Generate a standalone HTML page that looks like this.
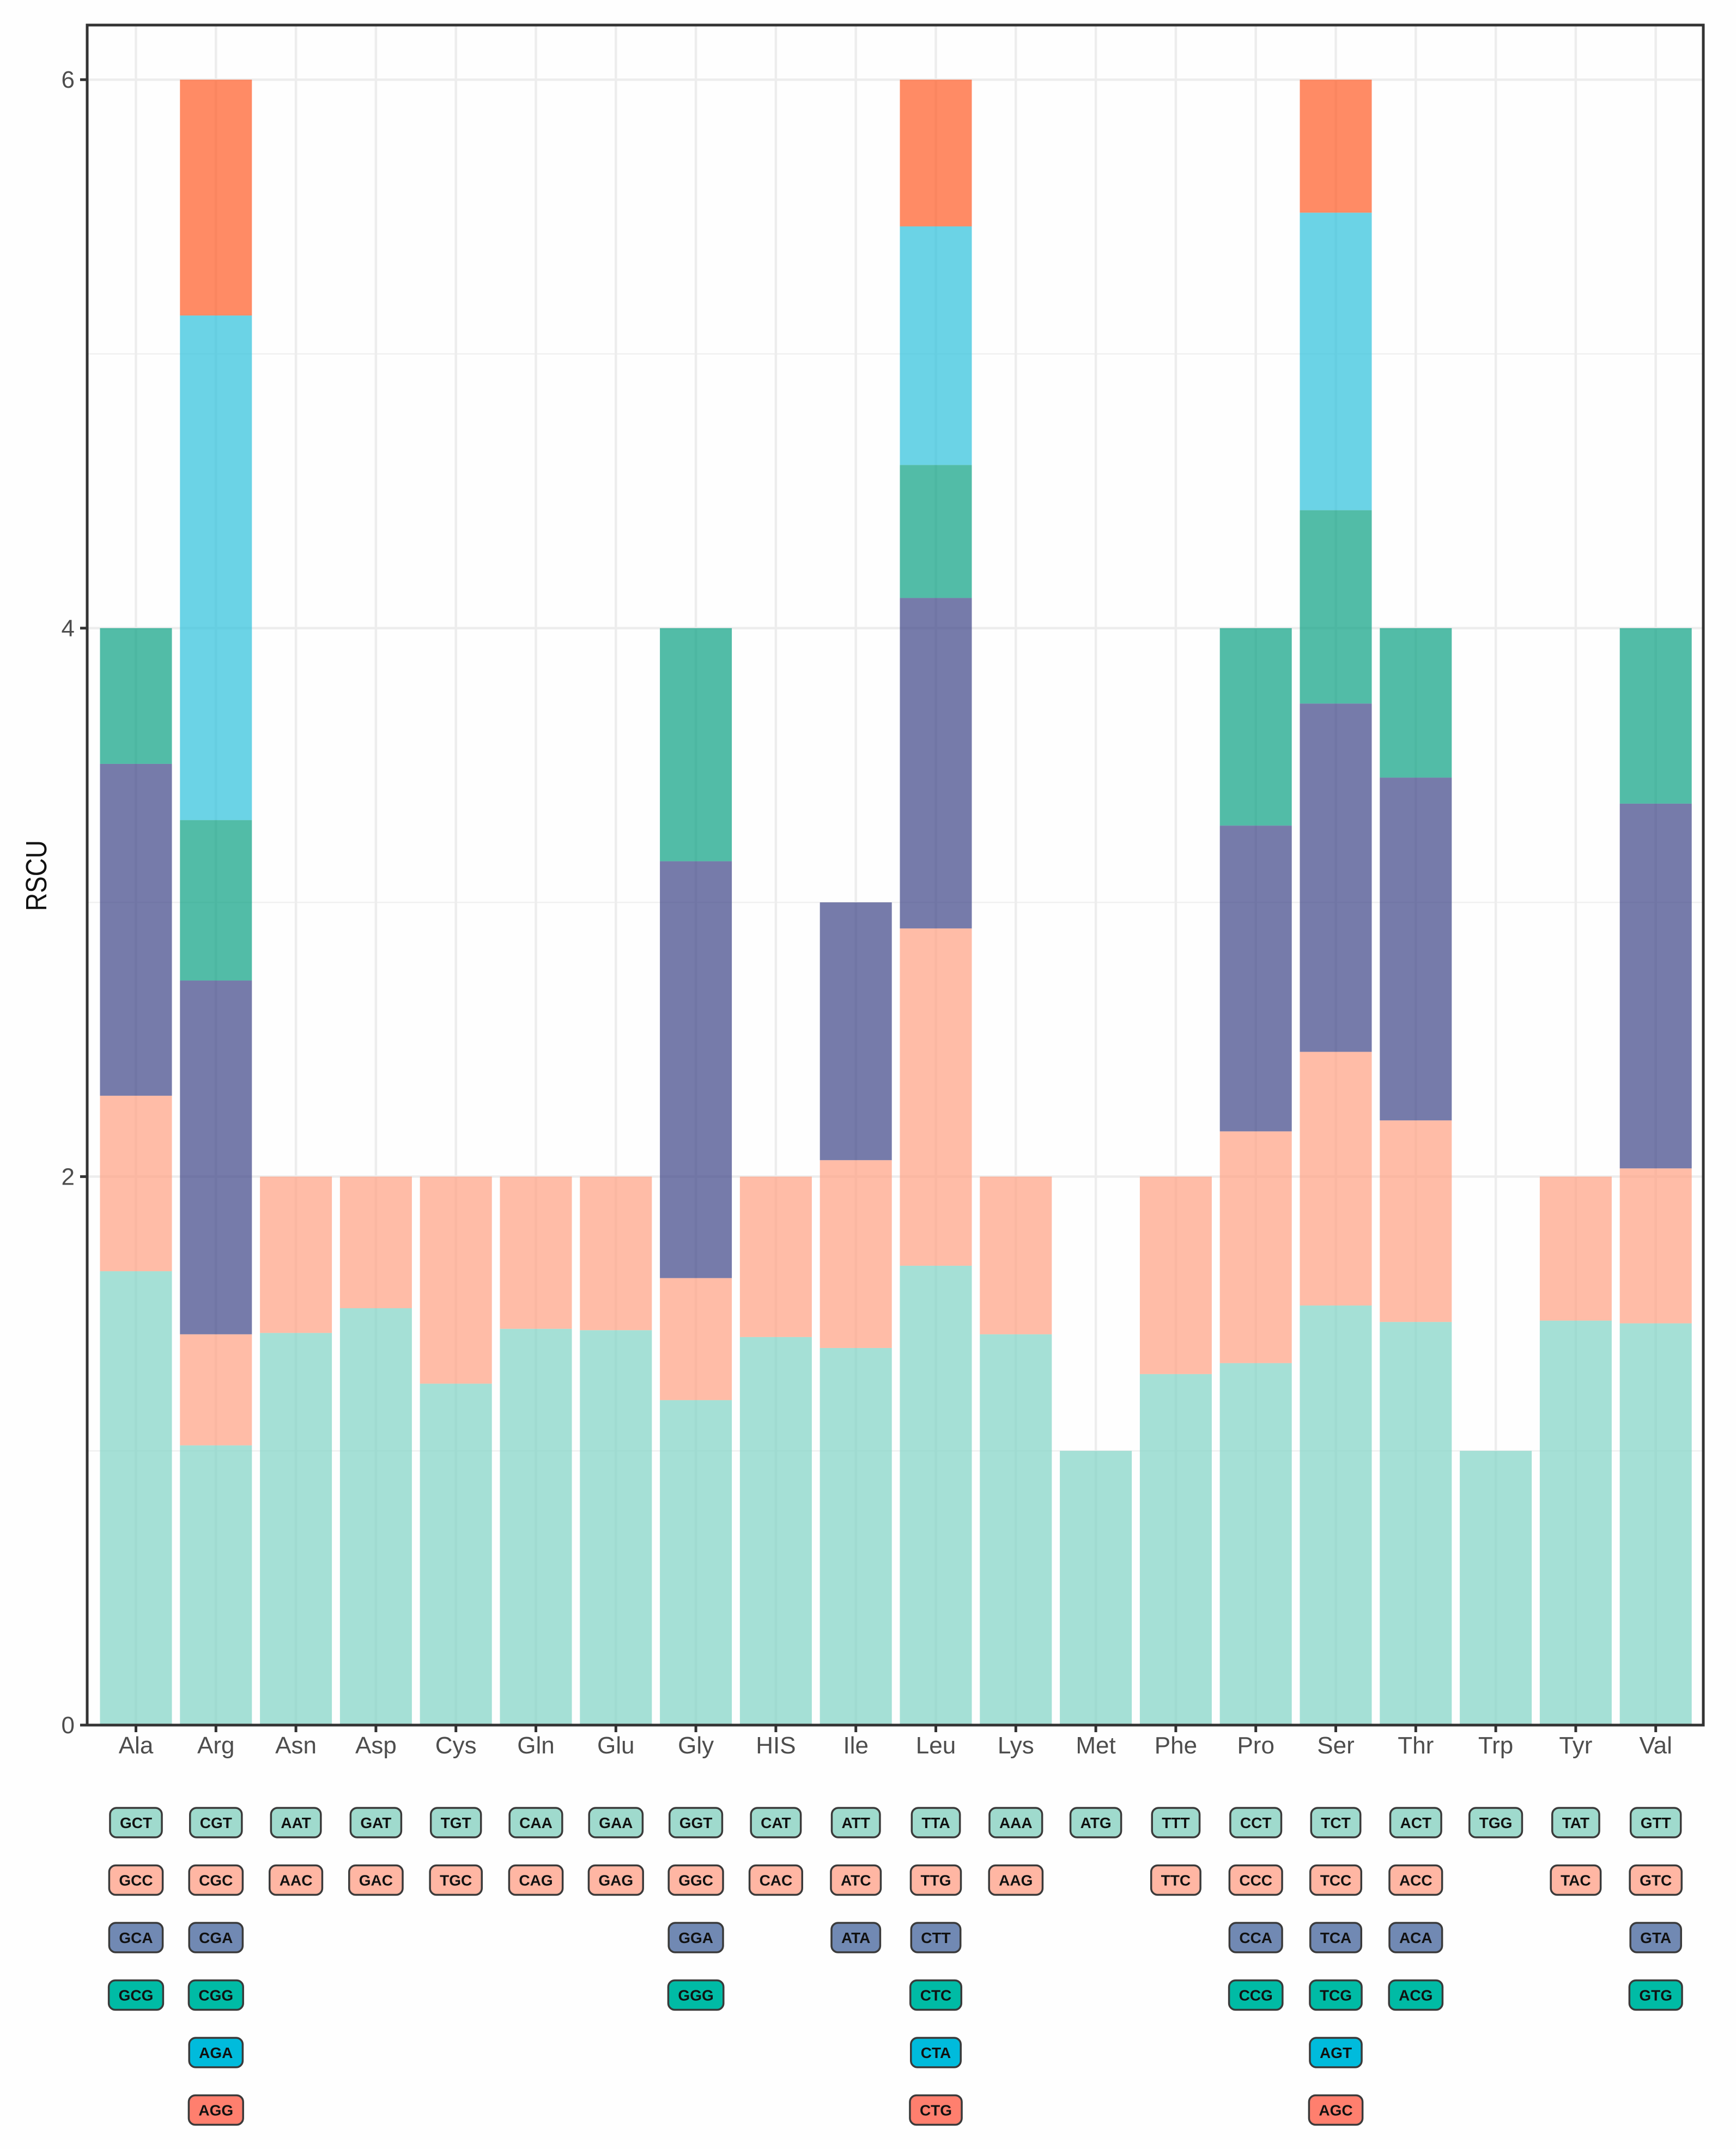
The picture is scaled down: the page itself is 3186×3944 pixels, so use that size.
<!DOCTYPE html>
<html>
<head>
<meta charset="utf-8">
<title>RSCU stacked bar chart</title>
<style>
html,body{margin:0;padding:0;background:#fefefe;}
svg{display:block;font-family:"Liberation Sans","DejaVu Sans",sans-serif;}
</style>
</head>
<body>
<svg id="chart" xmlns="http://www.w3.org/2000/svg" width="3186" height="3944" viewBox="0 0 3186 3944">
<rect x="0" y="0" width="3186" height="3944" fill="#fefefe"/>
<g id="grid"></g>
<g id="bars"></g>
<rect x="160" y="46" width="2966" height="3120" fill="none" stroke="#333333" stroke-width="5"/>
<g id="axes"></g>
<text transform="translate(85,1607) rotate(-90)" text-anchor="middle" font-size="54" textLength="130" lengthAdjust="spacingAndGlyphs" fill="#111111">RSCU</text>
<g id="chips"></g>
</svg>
<script>
const aminoAcids = ["Ala","Arg","Asn","Asp","Cys","Gln","Glu","Gly","HIS","Ile","Leu","Lys","Met","Phe","Pro","Ser","Thr","Trp","Tyr","Val"];
const rscu1 = [1.655,1.02,1.43,1.52,1.245,1.445,1.44,1.185,1.415,1.375,1.675,1.425,1.0,1.28,1.32,1.53,1.47,1.0,1.475,1.465];
const rscu2 = [0.64,0.405,0.57,0.48,0.755,0.555,0.56,0.445,0.585,0.685,1.23,0.575,0,0.72,0.845,0.925,0.735,0,0.525,0.565];
const rscu3 = [1.21,1.29,0,0,0,0,0,1.52,0,0.94,1.205,0,0,0,1.115,1.27,1.25,0,0,1.33];
const rscu4 = [0.495,0.585,0,0,0,0,0,0.85,0,0,0.485,0,0,0,0.72,0.705,0.545,0,0,0.64];
const rscu5 = [0,1.84,0,0,0,0,0,0,0,0,0.87,0,0,0,0,1.085,0,0,0,0];
const rscu6 = [0,0.86,0,0,0,0,0,0,0,0,0.535,0,0,0,0,0.485,0,0,0,0];
const codons1 = ["GCT","CGT","AAT","GAT","TGT","CAA","GAA","GGT","CAT","ATT","TTA","AAA","ATG","TTT","CCT","TCT","ACT","TGG","TAT","GTT"];
const codons2 = ["GCC","CGC","AAC","GAC","TGC","CAG","GAG","GGC","CAC","ATC","TTG","AAG","","TTC","CCC","TCC","ACC","","TAC","GTC"];
const codons3 = ["GCA","CGA","","","","","","GGA","","ATA","CTT","","","","CCA","TCA","ACA","","","GTA"];
const codons4 = ["GCG","CGG","","","","","","GGG","","","CTC","","","","CCG","TCG","ACG","","","GTG"];
const codons5 = ["","AGA","","","","","","","","","CTA","","","","","AGT","","","",""];
const codons6 = ["","AGG","","","","","","","","","CTG","","","","","AGC","","","",""];
const yMajorTicks = [0,2,4,6];
const yMinorTicks = [1,3,5];

const seriesList = [rscu1,rscu2,rscu3,rscu4,rscu5,rscu6];
const codonRows = [codons1,codons2,codons3,codons4,codons5,codons6];
const barFills = ["#7fd3c4","#ff9f82","#3c4386","#08a082","#2cc1dc","#ff5a24"];
const chipFills = ["#9fdacd","#ffb6a3","#7189b3","#00bba5","#00bbdc","#ff7f6e"];

const NS = "http://www.w3.org/2000/svg";
function xScale(i){ return 249.5 + i*146.8; }
function yScale(v){ return 3166 - v*503.3; }
const barWidth = 132;
function make(tag, parent, props, content){
  const el = document.createElementNS(NS, tag);
  for (const k in props) el.setAttribute(k, props[k]);
  if (content !== undefined) el.textContent = content;
  parent.appendChild(el);
  return el;
}
const gGrid = document.getElementById("grid");
const gBars = document.getElementById("bars");
const gAxes = document.getElementById("axes");
const gChips = document.getElementById("chips");

yMinorTicks.forEach(function(v){
  const l = make("line", gGrid, {x1:160,x2:3126,y1:yScale(v),y2:yScale(v),stroke:"#f0f0f0","stroke-width":2.5});
  
  
});
yMajorTicks.forEach(function(v){
  const l = make("line", gGrid, {x1:160,x2:3126,y1:yScale(v),y2:yScale(v),stroke:"#ededed","stroke-width":4.5});
  
  
  const t = make("line", gAxes, {x1:147,x2:160,y1:yScale(v),y2:yScale(v),stroke:"#333333","stroke-width":5});
  
  
  const lab = make("text", gAxes, {x:137,y:yScale(v)+15,"text-anchor":"end","font-size":44,fill:"#4d4d4d"}, String(v));
  
  
});
aminoAcids.forEach(function(name,i){
  const cx = xScale(i);
  const g = make("line", gGrid, {x1:cx,x2:cx,y1:46,y2:3166,stroke:"#ededed","stroke-width":4.5});
  
  
  let cum = 0;
  seriesList.forEach(function(series,s){
    const val = series[i];
    if (!val) return;
    const top = yScale(cum+val);
    const bottom = yScale(cum);
    const r = make("rect", gBars, {x:cx-barWidth/2,y:top,width:barWidth,height:bottom-top,fill:barFills[s],"fill-opacity":0.7});
    
    
    cum += val;
  });
  const t = make("line", gAxes, {x1:cx,x2:cx,y1:3166,y2:3179,stroke:"#333333","stroke-width":5});
  
  
  const lab = make("text", gAxes, {x:cx,y:3218,"text-anchor":"middle","font-size":44,fill:"#4d4d4d"}, name);
  
  
});
codonRows.forEach(function(row,r){
  row.forEach(function(codon,i){
    if (!codon) return;
    const cx = xScale(i);
    const cy = 3345 + r*105.5;
    const box = make("rect", gChips, {y:cy-27,height:54,rx:12,ry:12,fill:chipFills[r],stroke:"#3a3a3a","stroke-width":3.5});
    
    
    const txt = make("text", gChips, {x:cx,y:cy+10,"text-anchor":"middle","font-size":28,"font-weight":"bold",fill:"#111111"}, codon);
    
    
    const w = txt.getComputedTextLength() + 36;
    box.setAttribute("x", cx - w/2);
    box.setAttribute("width", w);
  });
});
</script>
</body>
</html>
